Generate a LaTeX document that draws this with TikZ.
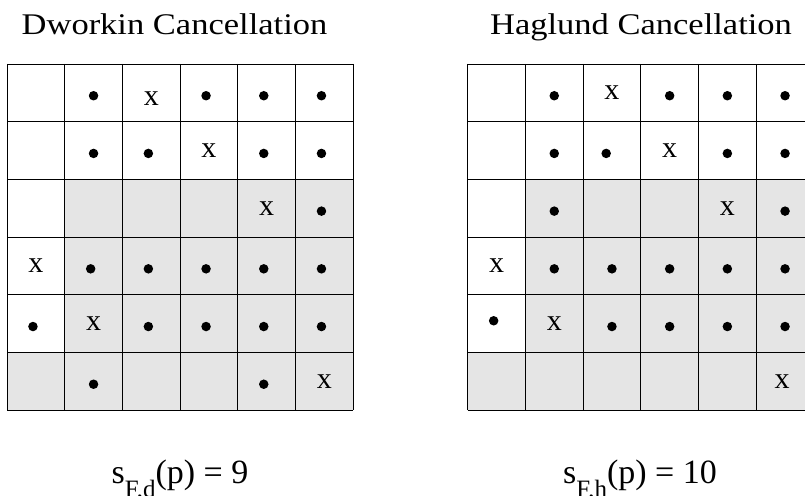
\documentclass[tikz,border=0pt]{standalone}
\usepackage{fontspec}
\setmainfont{Liberation Serif}

\begin{document}
\begin{tikzpicture}[
	x=1pt, y=1pt,
	title/.style={font=\fontsize{30}{36}\selectfont, anchor=base, inner sep=0pt},
	score/.style={font=\fontsize{34}{40}\selectfont, anchor=base, inner sep=0pt},
	shade/.style={fill=gray!20, draw=none},
	rule/.style={line width=0.9pt},
	cross/.style={font=\fontsize{30}{30}\selectfont, inner sep=0pt},
	dot/.style={circle, fill=black, inner sep=0pt, minimum size=9.5pt}
]
\useasboundingbox (0,0) rectangle (805,495);

% Titles
\node[title] (ltitle) at (174.5,460) {\scalebox{1.15}[1]{Dworkin Cancellation}};
\node[title] (rtitle) at (641,460) {\scalebox{1.15}[1]{Haglund Cancellation}};

% Dworkin grid
\begin{scope}[xshift=7pt, yshift=431pt, x=57.7pt, y=57.7pt]
\fill[shade] (1,-2) -- (6,-2) -- (6,-6) -- (0,-6) -- (0,-5) -- (1,-5) -- cycle;
\foreach \i in {0,...,6} {
	\draw[rule] (\i,0) -- (\i,-6);
	\draw[rule] (0,-\i) -- (6,-\i);
}
% row 1
\node[dot] (d12) at (1.5,-0.55) {};
\node[cross] (d13) at (2.5,-0.6) {x};
\node[dot] (d14) at (3.45,-0.55) {};
\node[dot] (d15) at (4.45,-0.55) {};
\node[dot] (d16) at (5.45,-0.55) {};
% row 2
\node[dot] (d22) at (1.5,-1.55) {};
\node[dot] (d23) at (2.45,-1.55) {};
\node[cross] (d24) at (3.5,-1.5) {x};
\node[dot] (d25) at (4.45,-1.55) {};
\node[dot] (d26) at (5.45,-1.55) {};
% row 3
\node[cross] (d35) at (4.5,-2.5) {x};
\node[dot] (d36) at (5.45,-2.55) {};
% row 4
\node[cross] (d41) at (0.5,-3.5) {x};
\foreach \c in {2,...,6}
	\node[dot] (d4\c) at (\c-0.55,-3.55) {};
% row 5
\node[dot] (d51) at (0.45,-4.55) {};
\node[cross] (d52) at (1.5,-4.5) {x};
\foreach \c in {3,...,6}
	\node[dot] (d5\c) at (\c-0.55,-4.55) {};
% row 6
\node[dot] (d62) at (1.5,-5.55) {};
\node[dot] (d65) at (4.45,-5.55) {};
\node[cross] (d66) at (5.5,-5.5) {x};
\end{scope}

% Haglund grid
\begin{scope}[xshift=467.7pt, yshift=431pt, x=57.7pt, y=57.7pt]
\fill[shade] (1,-2) -- (6,-2) -- (6,-6) -- (0,-6) -- (0,-5) -- (1,-5) -- cycle;
\foreach \i in {0,...,6} {
	\draw[rule] (\i,0) -- (\i,-6);
	\draw[rule] (0,-\i) -- (6,-\i);
}
% row 1
\node[dot] (h12) at (1.5,-0.55) {};
\node[cross] (h13) at (2.5,-0.5) {x};
\node[dot] (h14) at (3.5,-0.55) {};
\node[dot] (h15) at (4.5,-0.55) {};
\node[dot] (h16) at (5.5,-0.55) {};
% row 2
\node[dot] (h22) at (1.5,-1.55) {};
\node[dot] (h23) at (2.4,-1.55) {};
\node[cross] (h24) at (3.5,-1.5) {x};
\node[dot] (h25) at (4.5,-1.55) {};
\node[dot] (h26) at (5.5,-1.55) {};
% row 3
\node[dot] (h32) at (1.5,-2.55) {};
\node[cross] (h35) at (4.5,-2.5) {x};
\node[dot] (h36) at (5.5,-2.55) {};
% row 4
\node[cross] (h41) at (0.5,-3.5) {x};
\foreach \c in {2,...,6}
	\node[dot] (h4\c) at (\c-0.5,-3.55) {};
% row 5
\node[dot] (h51) at (0.45,-4.45) {};
\node[cross] (h52) at (1.5,-4.5) {x};
\foreach \c in {3,...,6}
	\node[dot] (h5\c) at (\c-0.5,-4.55) {};
% row 6
\node[cross] (h66) at (5.45,-5.5) {x};
\end{scope}

% Scores
\node[score] (lscore) at (180,12)
	{s\raisebox{-14pt}{\fontsize{25}{25}\selectfont F,d}(p) = 9};
\node[score] (rscore) at (640,12)
	{s\raisebox{-14pt}{\fontsize{25}{25}\selectfont F,h}(p) = 10};
\end{tikzpicture}
\end{document}
